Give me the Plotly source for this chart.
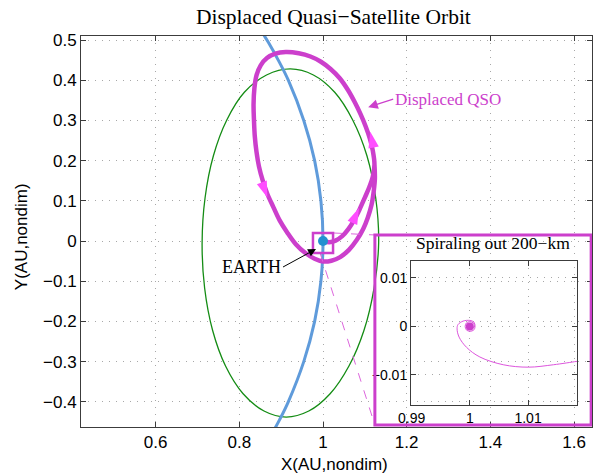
import plotly.graph_objects as go

# ---- Earth's orbit (unit circle segment), AU nondim ----
earth_orbit_x = [0.854, 0.870, 0.893, 0.917, 0.954, 0.980, 0.995, 1.000, 0.995, 0.980, 0.954, 0.917, 0.896, 0.883]
earth_orbit_y = [0.520, 0.493, 0.450, 0.400, 0.300, 0.200, 0.100, 0.000, -0.100, -0.200, -0.300, -0.400, -0.445, -0.470]

# ---- reference quasi-satellite orbit (green) ----
ref_qso_x = [1.133, 1.126, 1.105, 1.071, 1.028, 0.977, 0.922, 0.865, 0.812, 0.770, 0.738, 0.718, 0.711,
             0.717, 0.736, 0.767, 0.809, 0.859, 0.912, 0.966, 1.017, 1.062, 1.098, 1.122, 1.133]
ref_qso_y = [-0.005, 0.107, 0.212, 0.301, 0.370, 0.413, 0.428, 0.413, 0.370, 0.301, 0.212, 0.107, -0.005,
             -0.117, -0.222, -0.311, -0.380, -0.423, -0.438, -0.423, -0.380, -0.311, -0.222, -0.117, -0.005]

# ---- displaced QSO trajectory (magenta): departure branch, then one full loop ----
qso_x = [1.000, 1.015, 1.030, 1.046, 1.061, 1.075, 1.088, 1.100, 1.111, 1.119,
         1.123, 1.119, 1.112, 1.102, 1.090, 1.076, 1.060, 1.040, 1.018, 0.995, 0.970, 0.942, 0.911,
         0.886, 0.866, 0.851, 0.841, 0.836, 0.834, 0.835, 0.837, 0.841, 0.847, 0.856, 0.867, 0.881,
         0.896, 0.914, 0.935, 0.958, 0.980, 1.000, 1.020, 1.041, 1.062, 1.081, 1.096, 1.107, 1.116,
         1.121, 1.124, 1.123]
qso_y = [0.000, -0.003, 0.001, 0.012, 0.030, 0.053, 0.080, 0.108, 0.135, 0.160,
         0.190, 0.225, 0.255, 0.285, 0.315, 0.345, 0.375, 0.405, 0.428, 0.446, 0.459, 0.467, 0.470,
         0.466, 0.455, 0.437, 0.412, 0.380, 0.340, 0.300, 0.260, 0.222, 0.185, 0.150, 0.117, 0.085,
         0.052, 0.022, -0.008, -0.030, -0.044, -0.051, -0.049, -0.040, -0.022, 0.003, 0.030, 0.058, 0.090,
         0.122, 0.155, 0.190]

# ---- spiral departure near Earth (inset) ----
spiral_x = [1.0004, 1.0003, 1.0000, 0.9997, 0.9996, 0.9997, 1.0000, 1.0005, 1.0008, 1.0006, 1.0000, 0.9994,
            0.9992, 0.9994, 1.0000, 1.0007, 1.0009, 1.0007, 1.0000, 0.99885, 0.99798, 0.99781, 0.99816,
            0.99943, 1.00172, 1.00574, 1.01005, 1.01436, 1.01840, 1.01950]
spiral_y = [0.0000, 0.0004, 0.0005, 0.0004, 0.0000, -0.0004, -0.0005, -0.0004, 0.0000, 0.0007, 0.0010, 0.0007,
            0.0000, -0.0007, -0.0010, -0.0007, 0.0000, 0.0009, 0.00124, 0.0011, 0.0004, -0.0005, -0.0022,
            -0.0043, -0.0063, -0.0079, -0.0084, -0.0079, -0.0072, -0.0070]

earth_pos = (1.0, 0.0)

# ---- tick settings ----
main_xticks = [0.6, 0.8, 1.0, 1.2, 1.4, 1.6]
main_xtick_text = ["0.6", "0.8", "1", "1.2", "1.4", "1.6"]
main_yticks = [-0.4, -0.3, -0.2, -0.1, 0.0, 0.1, 0.2, 0.3, 0.4, 0.5]
main_ytick_text = ["\u22120.4", "\u22120.3", "\u22120.2", "\u22120.1", "0", "0.1", "0.2", "0.3", "0.4", "0.5"]
inset_xticks = [0.99, 1.0, 1.01]
inset_xtick_text = ["0.99", "1", "1.01"]
inset_yticks = [-0.01, 0.0, 0.01]
inset_ytick_text = ["\u22120.01", "0", "0.01"]

MAGENTA = "#CC3FCC"
ARROW_PINK = "#FF4DFF"
SERIF = "Liberation Serif"
SANS = "Liberation Sans"

fig = go.Figure()

fig.add_trace(go.Scatter(x=ref_qso_x, y=ref_qso_y, mode="lines",
                         line=dict(color="#148C14", width=1.3, shape="spline", smoothing=1.0),
                         hoverinfo="skip", showlegend=False))
fig.add_trace(go.Scatter(x=earth_orbit_x, y=earth_orbit_y, mode="lines",
                         line=dict(color="#5F9BDB", width=3, shape="spline"),
                         hoverinfo="skip", showlegend=False))
fig.add_trace(go.Scatter(x=qso_x, y=qso_y, mode="lines",
                         line=dict(color=MAGENTA, width=4.5, shape="spline", smoothing=1.0),
                         hoverinfo="skip", showlegend=False))

# direction arrowheads along the trajectory
fig.add_trace(go.Scatter(x=[1.113, 0.867, 1.086], y=[0.272, 0.108, 0.082], mode="markers",
                         marker=dict(symbol="arrow", size=17, color=ARROW_PINK, angle=[-12, 160, 24],
                                     line=dict(width=0)),
                         hoverinfo="skip", showlegend=False))

# connector lines from the zoom box to the inset
fig.add_trace(go.Scatter(x=[1.024, 1.124], y=[0.020, 0.015], mode="lines",
                         line=dict(color="#DD66DD", width=1, dash="dash"),
                         hoverinfo="skip", showlegend=False))
fig.add_trace(go.Scatter(x=[0.993, 1.124], y=[-0.030, -0.458], mode="lines",
                         line=dict(color="#DD66DD", width=1, dash="dash"),
                         hoverinfo="skip", showlegend=False))

# Earth
fig.add_trace(go.Scatter(x=[earth_pos[0]], y=[earth_pos[1]], mode="markers",
                         marker=dict(color="#2390D0", size=10, line=dict(width=0)),
                         hoverinfo="skip", showlegend=False))

# inset: spiral out of Earth vicinity
fig.add_trace(go.Scatter(x=spiral_x, y=spiral_y, mode="lines", xaxis="x2", yaxis="y2",
                         line=dict(color="#DD55DD", width=1, shape="spline"),
                         hoverinfo="skip", showlegend=False))
fig.add_trace(go.Scatter(x=[earth_pos[0]], y=[earth_pos[1]], mode="markers", xaxis="x2", yaxis="y2",
                         marker=dict(color=MAGENTA, size=8, line=dict(width=0)),
                         hoverinfo="skip", showlegend=False))

axis_common = dict(showline=True, linecolor="#3C3C3C", linewidth=1, mirror="ticks",
                   ticks="inside", ticklen=5, tickcolor="#3C3C3C",
                   showgrid=True, gridcolor="#A8A8A8", gridwidth=1, griddash="1px,6px",
                   zeroline=False)

fig.update_layout(
    width=596, height=475,
    margin=dict(l=81, r=4, t=36, b=48),
    paper_bgcolor="white", plot_bgcolor="rgba(0,0,0,0)",
    showlegend=False,
    xaxis=dict(range=[0.4215, 1.643], tickvals=main_xticks, ticktext=main_xtick_text,
               tickfont=dict(family=SANS, size=17, color="black"), **axis_common),
    yaxis=dict(range=[-0.4627, 0.51], tickvals=main_yticks, ticktext=main_ytick_text,
               tickfont=dict(family=SANS, size=17, color="black"), **axis_common),
    xaxis2=dict(domain=[0.6458, 0.9706], anchor="y2", range=[0.9899, 1.0184],
                tickvals=inset_xticks, ticktext=inset_xtick_text,
                tickfont=dict(family=SANS, size=14, color="black"), **axis_common),
    yaxis2=dict(domain=[0.0563, 0.4246], anchor="x2", range=[-0.0162, 0.0135],
                tickvals=inset_yticks, ticktext=inset_ytick_text,
                tickfont=dict(family=SANS, size=14, color="black"), **axis_common),
)

# zoom box around Earth and the inset frame
fig.add_shape(type="rect", xref="x", yref="y", x0=0.976, x1=1.024, y0=-0.030, y1=0.020,
              line=dict(color=MAGENTA, width=2.5), layer="above")
fig.add_shape(type="rect", xref="x", yref="y", x0=1.124, x1=1.641, y0=-0.458, y1=0.015,
              line=dict(color=MAGENTA, width=3), layer="above")

annotations = [
    dict(text="Displaced Quasi\u2212Satellite Orbit", xref="paper", yref="paper", x=0.495, y=1.049,
         showarrow=False, xanchor="center", yanchor="middle",
         font=dict(family=SERIF, size=21.5, color="black")),
    dict(text="X(AU,nondim)", xref="paper", yref="paper", x=0.497, y=-0.095,
         showarrow=False, xanchor="center", yanchor="middle",
         font=dict(family=SANS, size=17, color="black")),
    dict(text="Y(AU,nondim)", xref="paper", yref="paper", x=-0.115, y=0.486, textangle=-90,
         showarrow=False, xanchor="center", yanchor="middle",
         font=dict(family=SANS, size=17, color="black")),
    dict(text="Spiraling out 200\u2212km", xref="paper", yref="paper", x=0.806, y=0.4706,
         showarrow=False, xanchor="center", yanchor="middle",
         font=dict(family=SERIF, size=17.5, color="black")),
    dict(text="Displaced QSO", xref="x", yref="y", x=1.108, y=0.333, ax=25, ay=-8,
         xanchor="left", showarrow=True, arrowhead=2, arrowsize=1.6, arrowwidth=1.2,
         arrowcolor=MAGENTA, standoff=0, font=dict(family=SERIF, size=17, color=MAGENTA)),
    dict(text="EARTH", xref="x", yref="y", x=0.9833, y=-0.0199, ax=-33, ay=18,
         xanchor="right", showarrow=True, arrowhead=2, arrowsize=1.6, arrowwidth=1,
         arrowcolor="black", standoff=0, font=dict(family=SERIF, size=18, color="black")),
]
fig.update_layout(annotations=annotations)

fig.write_html("out.html")
